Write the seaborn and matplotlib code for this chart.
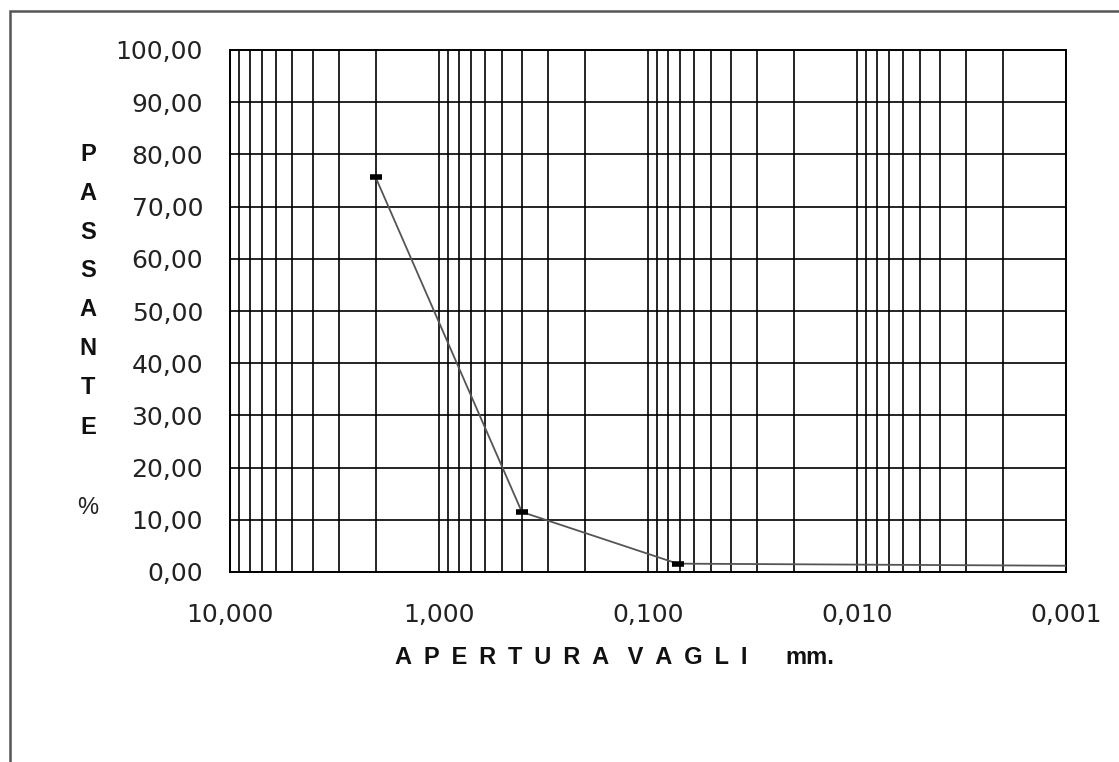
import matplotlib
matplotlib.use("Agg")
import matplotlib.pyplot as plt
import matplotlib.ticker as mticker
from matplotlib.patches import Rectangle
import seaborn as sns
import pandas as pd

# ---- data ----
aperture_mm = [2.0, 0.4, 0.072, 0.001]
passante_pct = [75.6, 11.5, 1.6, 1.2]
marker_aperture = [2.0, 0.4, 0.072]
marker_passante = [75.6, 11.5, 1.6]
x_ticks = [10, 1, 0.1, 0.01, 0.001]
y_ticks = [0, 10, 20, 30, 40, 50, 60, 70, 80, 90, 100]
ylabel_letters = ["P", "A", "S", "S", "A", "N", "T", "E"]
ylabel_pos = [79.9, 72.5, 65.1, 57.7, 50.3, 42.9, 35.3, 27.7]
xlabel_words = ["APERTURA", "VAGLI"]
xlabel_unit = "mm."

sns.set_theme(style="white")
plt.rcParams['font.family'] = ['Liberation Sans', 'DejaVu Sans']

W, H = 1119, 762
fig = plt.figure(figsize=(W / 100, H / 100), dpi=100)
ax = fig.add_axes([229.5 / W, 1 - 572 / H, (1066 - 229.5) / W, (572 - 50) / H])

df = pd.DataFrame({"apertura": aperture_mm, "passante": passante_pct})
sns.lineplot(data=df, x="apertura", y="passante", ax=ax, color="#555555",
             linewidth=1.3, sort=False, zorder=3)
ax.plot(marker_aperture, marker_passante, linestyle="none", marker="_",
        markersize=8, markeredgewidth=4, color="black", zorder=4)

ax.set_xscale("log")
ax.set_xlim(10, 0.001)
ax.set_ylim(0, 100)
ax.set_xticks(x_ticks)
ax.set_yticks(y_ticks)
ax.xaxis.set_major_formatter(mticker.FuncFormatter(lambda v, p: f"{v:.3f}".replace(".", ",")))
ax.yaxis.set_major_formatter(mticker.FuncFormatter(lambda v, p: f"{v:.2f}".replace(".", ",")))
ax.xaxis.set_minor_locator(mticker.LogLocator(base=10, subs=range(2, 10), numticks=20))
ax.xaxis.set_minor_formatter(mticker.NullFormatter())

ax.grid(True, which="major", axis="both", color="black", linewidth=1.2)
ax.grid(True, which="minor", axis="x", color="black", linewidth=1.2)
ax.tick_params(axis="both", which="major", direction="out", length=7, width=1.2,
               color="black", labelcolor="#222222")
ax.tick_params(axis="x", which="major", pad=15)
ax.tick_params(axis="y", which="major", pad=12)
ax.tick_params(axis="x", which="minor", length=0)
for lbl in ax.get_xticklabels() + ax.get_yticklabels():
    lbl.set_fontfamily("DejaVu Sans")
    lbl.set_fontsize(18)
for s in ax.spines.values():
    s.set_color("black")
    s.set_linewidth(1.4)
ax.set_xlabel("")
ax.set_ylabel("")

trans = matplotlib.transforms.blended_transform_factory(ax.transAxes, ax.transData)
for letter, yv in zip(ylabel_letters, ylabel_pos):
    ax.text(-0.169, yv, letter, transform=trans, ha="center", va="center",
            fontsize=17, fontweight="bold", color="#111111")
ax.text(-0.169, 12.3, "%", transform=trans, ha="center", va="center",
        fontsize=17, color="#222222")

EN = "\u2002"
xlabel_text = (EN + " ").join(EN.join(w) for w in xlabel_words)
fig.text(395 / W, 1 - 658 / H, xlabel_text, ha="left", va="center",
         fontsize=17, fontweight="bold", color="#111111")
fig.text(785 / W, 1 - 658 / H, xlabel_unit, ha="left", va="center",
         fontsize=17, fontweight="bold", color="#111111")

# outer chart frame
fig.patches.append(Rectangle((10 / W, -0.05), 1.2, 1 - 11 / H + 0.05,
                             transform=fig.transFigure, fill=False,
                             edgecolor="#555555", linewidth=1.8))

fig.savefig("out.png", dpi=100)
